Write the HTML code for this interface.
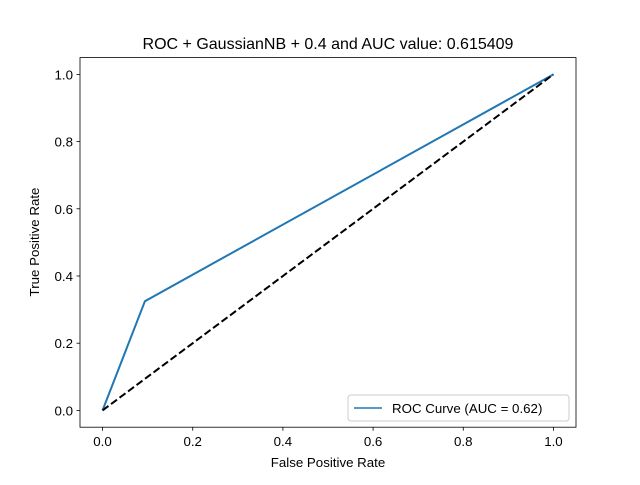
<!DOCTYPE html>
<html><head><meta charset="utf-8"><style>
body{margin:0;background:#fff}
svg text{font-family:"Liberation Sans","DejaVu Sans",sans-serif;fill:#000}
</style></head><body>
<svg id="chart" width="640" height="480" viewBox="0 0 640 480">
<rect width="640" height="480" fill="#fff"/>
<text x="328" y="49" font-size="16" text-anchor="middle">ROC + GaussianNB + 0.4 and AUC value: 0.615409</text>
<g id="xticks"></g><g id="yticks"></g>
<g id="series"></g>
<rect x="80" y="57.6" width="496" height="369.6" fill="none" stroke="#000" stroke-width="0.8"/>
<text x="328" y="467" font-size="13.3" text-anchor="middle">False Positive Rate</text>
<text transform="translate(39,242) rotate(-90)" font-size="13.3" text-anchor="middle">True Positive Rate</text>
<g>
<rect x="348" y="395" width="221" height="26" rx="3" fill="#fff" fill-opacity="0.8" stroke="#ccc"/>
<line x1="354" y1="408" x2="382" y2="408" stroke="#1f77b4" stroke-width="1.5"/>
<text x="392" y="413" font-size="13.3">ROC Curve (AUC = 0.62)</text>
</g>
</svg>
<script>
const fpr=[0,0.094,1];
const tpr=[0,0.325,1];
const diagX=[0,1];
const diagY=[0,1];
const tickVals=[0,0.2,0.4,0.6,0.8,1.0];
const tickLabels=["0.0","0.2","0.4","0.6","0.8","1.0"];
const NS="http://www.w3.org/2000/svg";
const X=v=>80+(v+0.05)/1.1*496;
const Y=v=>427.2-(v+0.05)/1.1*369.6;
function mk(t,a,p){const e=document.createElementNS(NS,t);for(const k in a)e.setAttribute(k,a[k]);p.appendChild(e);return e;}
const xt=document.getElementById('xticks'),yt=document.getElementById('yticks'),s=document.getElementById('series');
tickVals.forEach((v,i)=>{
 const l=mk('line',{x1:X(v),x2:X(v),y1:427.2,y2:430.7,stroke:'#000','stroke-width':0.8},xt);
 
 
 const t=mk('text',{x:X(v),y:446,'font-size':13.3,'text-anchor':'middle'},xt);t.textContent=tickLabels[i];
 
 
 const l2=mk('line',{x1:76.5,x2:80,y1:Y(v),y2:Y(v),stroke:'#000','stroke-width':0.8},yt);
 
 
 const t2=mk('text',{x:73,y:Y(v)+5,'font-size':13.3,'text-anchor':'end'},yt);t2.textContent=tickLabels[i];
 
 
});
const roc=mk('polyline',{points:fpr.map((v,i)=>X(v)+','+Y(tpr[i])).join(' '),fill:'none',stroke:'#1f77b4','stroke-width':2},s);


const d=mk('polyline',{points:diagX.map((v,i)=>X(v)+','+Y(diagY[i])).join(' '),fill:'none',stroke:'#000','stroke-width':2,'stroke-dasharray':'7.4,3.2'},s);


</script>
</body></html>
